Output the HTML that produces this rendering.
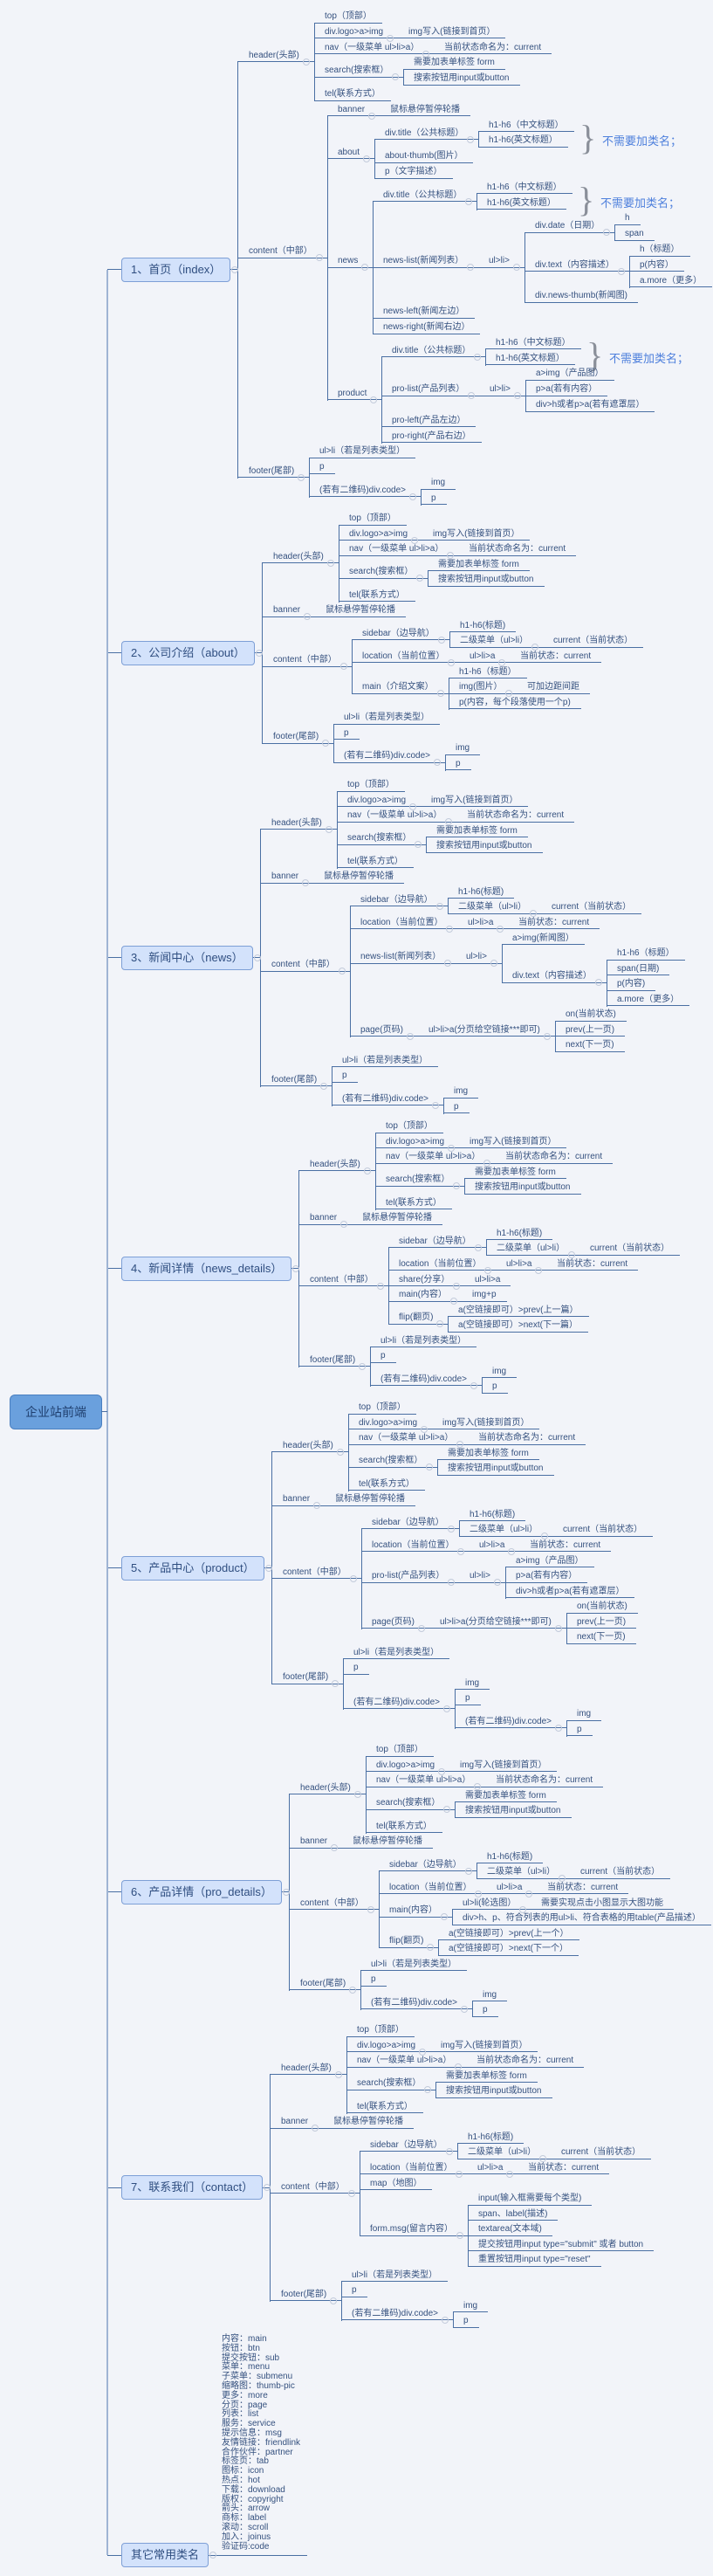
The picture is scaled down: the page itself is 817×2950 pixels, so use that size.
<!DOCTYPE html>
<html><head><meta charset="utf-8">
<style>
html,body{margin:0;padding:0;background:#f2f4f9;}
body{width:817px;height:2950px;position:relative;overflow:hidden;font-family:"Liberation Sans","Noto Sans CJK SC",sans-serif;}
.t{position:absolute;font-size:10px;line-height:12px;color:#34507e;white-space:nowrap;}
.h{position:absolute;height:1px;background:#4a6fa3;}
.v{position:absolute;width:1px;background:#4a6fa3;}
.box{position:absolute;height:26px;line-height:26px;padding:0 10px;font-size:13px;color:#2f4e80;background:#d3e2fb;border:1px solid #7d9fd6;border-radius:4px;white-space:nowrap;}
.ic{position:absolute;width:6px;height:6px;border:1px solid #c3cbdb;border-radius:50%;}
.br{position:absolute;font-family:"Liberation Serif",serif;font-size:40px;line-height:40px;color:#8a8f99;}
.bt{position:absolute;font-size:13px;color:#4d7fdc;white-space:nowrap;}
#root{position:absolute;left:11px;top:1597px;width:104px;height:38px;line-height:38px;text-align:center;font-size:14px;color:#1f3f6f;background:#6aa0dd;border:1px solid #4a7fc0;border-radius:6px;}
#list{position:absolute;left:254px;font-size:10px;line-height:10.8px;color:#34507e;white-space:nowrap;}
</style></head><body>
<div id="root">企业站前端</div>
<div id="list">内容：main<br>按钮：btn<br>提交按钮：sub<br>菜单：menu<br>子菜单：submenu<br>缩略图：thumb-pic<br>更多：more<br>分页：page<br>列表：list<br>服务：service<br>提示信息：msg<br>友情链接：friendlink<br>合作伙伴：partner<br>标签页：tab<br>图标：icon<br>热点：hot<br>下载：download<br>版权：copyright<br>箭头：arrow<br>商标：label<br>滚动：scroll<br>加入：joinus<br>验证码:code</div>
<script>
var B=document.body;
function el(c,s,txt){var d=document.createElement('div');d.className=c;for(var k in s)d.style[k]=s[k];if(txt!=null)d.textContent=txt;B.appendChild(d);return d;}
function hl(x1,x2,y){el('h',{left:x1+'px',top:(y-0.5)+'px',width:Math.max(0,x2-x1)+'px'});}
function vl(x,y1,y2){el('v',{left:(x-0.5)+'px',top:y1+'px',height:(y2-y1)+'px'});}
function H(){return ['header(头部)',['top（顶部）'],['div.logo>a>img',['img写入(链接到首页）']],['nav（一级菜单  ul>li>a）',['当前状态命名为：current']],['search(搜索框）',['需要加表单标签  form'],['搜索按钮用input或button']],['tel(联系方式）']];}
function BN(){return ['banner',['鼠标悬停暂停轮播']];}
function F(){return ['footer(尾部)',['ul>li（若是列表类型）'],['p'],['(若有二维码)div.code>',['img'],['p']]];}
function SB(){return ['sidebar（边导航）',['h1-h6(标题)'],['二级菜单（ul>li）',['current（当前状态）']]];}
function LOC(){return ['location（当前位置）',['ul>li>a',['当前状态：current']]];}
function DT(){return ['*div.title（公共标题）',['h1-h6（中文标题）'],['h1-h6(英文标题）']];}
function PG(){return ['page(页码)',['ul>li>a(分页给空链接***即可)',['on(当前状态)'],['prev(上一页)'],['next(下一页)']]];}
var S=[
['1、首页（index）',H(),['content（中部）',BN(),['about',DT(),['about-thumb(图片）'],['p（文字描述）']],
 ['news',DT(),['news-list(新闻列表）',['ul>li>',['div.date（日期）',['h'],['span']],['div.text（内容描述）',['h（标题）'],['p(内容）'],['a.more（更多）']],['div.news-thumb(新闻图)']]],['news-left(新闻左边）'],['news-right(新闻右边）']],
 ['product',DT(),['pro-list(产品列表）',['ul>li>',['a>img（产品图）'],['p>a(若有内容）'],['div>h或者p>a(若有遮罩层）']]],['pro-left(产品左边）'],['pro-right(产品右边）']]],F()],
['2、公司介绍（about）',H(),BN(),['content（中部）',SB(),LOC(),['main（介绍文案）',['h1-h6（标题）'],['img(图片）',['可加边距间距']],['p(内容，每个段落使用一个p)']]],F()],
['3、新闻中心（news）',H(),BN(),['content（中部）',SB(),LOC(),['news-list(新闻列表）',['ul>li>',['a>img(新闻图）'],['div.text（内容描述）',['h1-h6（标题）'],['span(日期)'],['p(内容)'],['a.more（更多）']]]],PG()],F()],
['4、新闻详情（news_details）',H(),BN(),['content（中部）',SB(),LOC(),['share(分享）',['ul>li>a']],['main(内容）',['img+p']],['flip(翻页)',['a(空链接即可）>prev(上一篇）'],['a(空链接即可）>next(下一篇）']]],F()],
['5、产品中心（product）',H(),BN(),['content（中部）',SB(),LOC(),['pro-list(产品列表）',['ul>li>',['a>img（产品图）'],['p>a(若有内容）'],['div>h或者p>a(若有遮罩层）']]],PG()],
 ['footer(尾部)',['ul>li（若是列表类型）'],['p'],['(若有二维码)div.code>',['img'],['p'],['(若有二维码)div.code>',['img'],['p']]]]],
['6、产品详情（pro_details）',H(),BN(),['content（中部）',SB(),LOC(),['main(内容）',['ul>li(轮选图）',['需要实现点击小图显示大图功能']],['div>h、p、符合列表的用ul>li、符合表格的用table(产品描述）']],['flip(翻页)',['a(空链接即可）>prev(上一个）'],['a(空链接即可）>next(下一个）']]],F()],
['7、联系我们（contact）',H(),BN(),['content（中部）',SB(),LOC(),['map（地图）'],['form.msg(留言内容）',['input(输入框需要每个类型)'],['span、label(描述)'],['textarea(文本域)'],['提交按钮用input type="submit"  或者 button'],['重置按钮用input type="reset"']]],F()]
];
var starts=[26,601,906,1297,1619,2011,2332];
var cur,R;
function place(n){var ch=n.slice(1);if(!ch.length){n.y=cur;cur+=R;return;}ch.forEach(place);n.y=(ch[0].y+ch[ch.length-1].y)/2;}
function draw(n,x0,tx){
  var lab=n[0],br=false;if(lab.charAt(0)=='*'){br=true;lab=lab.slice(1);}
  var t=el('t',{left:tx+'px',top:(n.y-13)+'px'},lab);var E=tx+t.offsetWidth;
  var ch=n.slice(1);
  if(!ch.length){hl(x0,E+12,n.y);return E+12;}
  var bar=E+17;hl(x0,bar,n.y);
  el('ic',{left:(E+4)+'px',top:(n.y-4)+'px'});
  if(ch.length>1)vl(bar,ch[0].y,ch[ch.length-1].y+1);
  var mx=0;ch.forEach(function(c){var e=draw(c,bar,bar+12);if(e>mx)mx=e;});
  if(br){var b=el('br',{left:(mx+6)+'px',top:(n.y-22)+'px'},'}');el('bt',{left:(mx+32)+'px',top:(n.y-9)+'px'},'不需要加类名；');}
  return mx;
}
var cys=[];
S.forEach(function(sec,i){
  cur=starts[i];R=(i==0)?17.8:17.55;
  var ch=sec.slice(1);ch.forEach(place);
  var cy=(ch[0].y+ch[ch.length-1].y)/2;cys.push(cy);
  var bx=el('box',{left:'139px',top:(cy-14)+'px'},sec[0]);
  var right=139+bx.offsetWidth;var bar=right+8;
  hl(123,139,cy);hl(right,bar,cy);
  vl(bar,ch[0].y,ch[ch.length-1].y+1);
  el('ic',{left:(right+1)+'px',top:(cy-4)+'px'});
  ch.forEach(function(c){draw(c,bar,bar+13);});
});
// other section
var oy=2926;
var ob=el('box',{left:'139px',top:(oy-14)+'px'},'其它常用类名');
var orr=139+ob.offsetWidth;hl(orr,352,oy);el('ic',{left:(orr+1)+'px',top:(oy-4)+'px'});
hl(123,139,oy);
var L=document.getElementById('list');L.style.top=(2922-L.offsetHeight)+'px';
// root bar
el('v',{left:'122px',top:cys[0]+'px',height:(oy-cys[0])+'px',width:'2px',background:'#9fb4d4'});
el('h',{left:'116px',top:'1616px',width:'7px'});
</script>
</body></html>
